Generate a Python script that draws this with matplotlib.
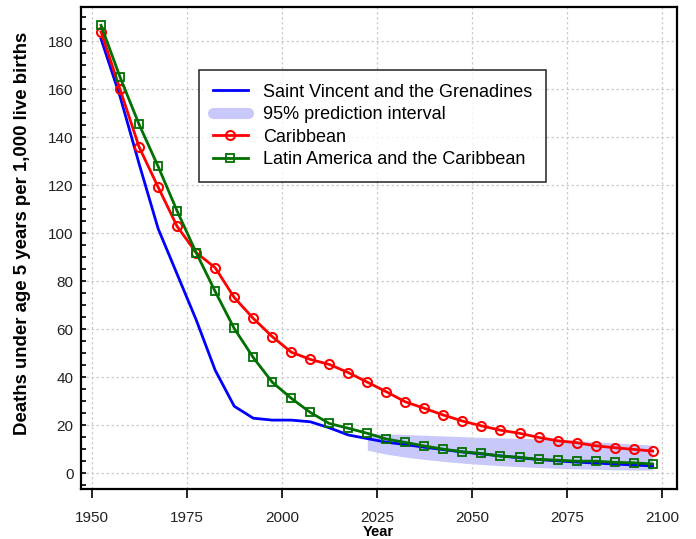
import numpy as np
import matplotlib
matplotlib.use("Agg")
import matplotlib.pyplot as plt
from matplotlib.ticker import MultipleLocator

plt.rcParams['font.family'] = ['Liberation Sans', 'DejaVu Sans']

years = [1952.5 + 5 * i for i in range(30)]

svg = [181, 157, 129, 102, 83, 64, 43, 28, 23, 22.2, 22.2, 21.5, 19, 16, 14.5,
       13, 12, 10.9, 9.9, 8.9, 8.1, 7.3, 6.5, 5.8, 5.2, 4.7, 4.3, 3.9, 3.5, 3.1]

caribbean = [184, 160, 136, 119.3, 102.9, 92, 85.7, 73.3, 64.6, 57, 50.5, 47.5,
             45.4, 42, 38, 34, 29.8, 27.1, 24.3, 21.8, 19.8, 18, 16.7, 15,
             13.6, 12.8, 11.5, 10.7, 10, 9.3]

lac = [186.7, 165.1, 145.4, 127.9, 109.3, 92, 75.8, 60.4, 48.3, 38, 31.3, 25.4,
       20.8, 18.8, 16.7, 14.3, 12.9, 11.4, 10.1, 9, 8.3, 7.2, 6.7, 5.8, 5.5,
       5.1, 5.1, 4.6, 4.4, 3.9]

pi_years = years[14:]
pi_lower = [9.7, 8.0, 6.8, 5.8, 5.0, 4.3, 3.7, 3.2, 2.8, 2.4, 2.1, 1.9, 1.7, 1.5, 1.4, 1.4]
pi_upper = [16.7, 16.5, 16.2, 15.9, 15.6, 15.3, 15.0, 14.8, 14.6, 14.4, 14.0, 13.6, 13.2, 12.7, 12.2, 11.8]

xticks = [1950, 1975, 2000, 2025, 2050, 2075, 2100]
yticks = [0, 20, 40, 60, 80, 100, 120, 140, 160, 180]

fig = plt.figure(figsize=(6.96, 5.39), dpi=100)
ax = fig.add_axes([0.1157, 0.0928, 0.857, 0.894])

ax.fill_between(pi_years, pi_lower, pi_upper, color='#c8c8fa', lw=0, zorder=1)
ax.plot(years, svg, color='#0000ff', lw=2, zorder=3,
        label='Saint Vincent and the Grenadines')
ax.plot([], [], color='#c8c8fa', lw=8, solid_capstyle='round',
        label='95% prediction interval')
ax.plot(years, caribbean, color='#ff0000', lw=2, marker='o', ms=6.5,
        mfc='none', mec='#ff0000', mew=1.5, zorder=4, label='Caribbean')
ax.plot(years, lac, color='#007000', lw=2, marker='s', ms=6,
        mfc='none', mec='#007000', mew=1.3, zorder=5,
        label='Latin America and the Caribbean')

ax.set_xlim(1947.1, 2103.9)
ax.set_ylim(-6.5, 194.3)
ax.set_xticks(xticks)
ax.set_yticks(yticks)
ax.yaxis.set_minor_locator(MultipleLocator(5))
ax.tick_params(axis='y', which='both', direction='in', length=3.8, width=1.2,
               labelsize=11, labelcolor='#222222', pad=5)
ax.tick_params(axis='x', which='major', direction='out', length=6.5, width=1.2,
               labelsize=11, labelcolor='#222222', pad=9)
ax.grid(True, which='major', color='#cccccc', linestyle=(0, (2, 2)), lw=0.9)
for s in ax.spines.values():
    s.set_linewidth(1.6)

ax.set_xlabel('Year', fontsize=10.5, fontweight='bold', labelpad=0)
ax.set_ylabel('Deaths under age 5 years per 1,000 live births', fontsize=13.4,
              fontweight='bold')
ax.yaxis.set_label_coords(-0.083, 0.53)

leg = ax.legend(loc='upper left', bbox_to_anchor=(0.1987, 0.869), fontsize=13,
                frameon=True, fancybox=False, edgecolor='black',
                handlelength=1.95, borderpad=0.75, labelspacing=0.3,
                handletextpad=0.85, borderaxespad=0)
leg.get_frame().set_linewidth(1.2)

fig.savefig('out.png', dpi=100)
